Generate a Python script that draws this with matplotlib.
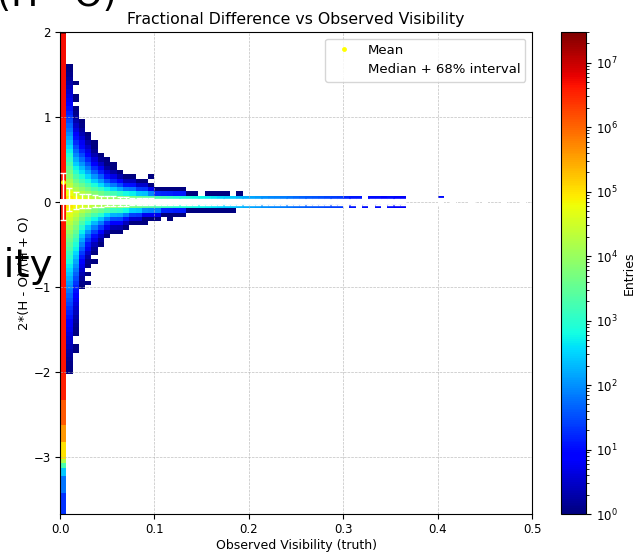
import numpy as np
import matplotlib
matplotlib.use("Agg")
import matplotlib.pyplot as plt
from matplotlib.colors import LogNorm

# ---------------- binning ----------------
x_bin_count = 75
x_lo, x_hi = 0.0, 0.5
y_bin_width = 0.05
y_low_edge = -3.675
y_bin_count = 114

# ---------------- column 0 (x < 0.0067): segments of log10(entries) ----------------
col0_ylo = [1.975, 1.0, -2.0, -2.3, -2.6, -2.8, -3.0, -3.05, -3.1, -3.2, -3.4, -3.675]
col0_yhi = [2.025, 1.975, 1.0, -2.0, -2.3, -2.6, -2.8, -3.0, -3.05, -3.1, -3.2, -3.4]
col0_log = [7.4, 6.7, 6.65, 6.55, 6.1, 5.6, 5.0, 4.2, 3.3, 2.4, 1.8, 1.3]

# ---------------- columns 1..54: envelope ----------------
upper_extent = [1.6, 1.1, 0.95, 0.8, 0.65, 0.55, 0.45, 0.4, 0.35, 0.3,
                0.3, 0.25, 0.25, 0.2, 0.15, 0.15, 0.15, 0.15, 0.15, 0.1,
                0.1, 0.05, 0.1, 0.1, 0.1, 0.1, 0.05, 0.1, 0.05, 0.05,
                0.05, 0.05, 0.05, 0.05, 0.05, 0.05, 0.05, 0.05, 0.05, 0.05,
                0.05, 0.05, 0.05, 0.05, 0.05, 0.05, 0.05, 0.0, 0.05, 0.05,
                0.05, 0.05, 0.05, 0.05]
lower_extent = [2.0, 1.55, 1.0, 0.75, 0.6, 0.5, 0.4, 0.35, 0.35, 0.3,
                0.25, 0.25, 0.2, 0.2, 0.2, 0.15, 0.15, 0.15, 0.15, 0.1,
                0.1, 0.1, 0.1, 0.1, 0.1, 0.1, 0.1, 0.05, 0.05, 0.05,
                0.05, 0.05, 0.05, 0.05, 0.05, 0.05, 0.05, 0.05, 0.05, 0.05,
                0.05, 0.05, 0.05, 0.05, 0.0, 0.05, 0.0, 0.05, 0.0, 0.05,
                0.0, 0.05, 0.05, 0.05]
band_log = [5.0, 4.8, 4.6, 4.45, 4.3, 4.2, 4.1, 4.0, 3.9, 3.8,
            3.7, 3.6, 3.5, 3.4, 3.3, 3.2, 3.1, 3.0, 2.95, 2.9,
            2.8, 2.75, 2.7, 2.6, 2.5, 2.45, 2.4, 2.3, 2.2, 2.15,
            2.1, 2.0, 1.95, 1.9, 1.85, 1.8, 1.7, 1.65, 1.6, 1.55,
            1.5, 1.45, 1.4, 1.35, 1.2, 1.1, 1.1, 1.0, 1.0, 1.0,
            0.9, 1.0, 0.9, 0.8]

# isolated cells (x, y, log10 entries)
sparse_x = [0.017, 0.017, 0.017, 0.031, 0.035, 0.051, 0.057, 0.094, 0.017, 0.017,
            0.031, 0.031, 0.035, 0.091, 0.117, 0.403]
sparse_y = [1.40, 1.20, 1.25, 0.65, 0.70, 0.50, 0.45, 0.30, -1.70, -1.75,
            -0.85, -0.95, -0.70, -0.25, -0.20, 0.05]
sparse_log = [0.0, 0.0, 0.0, 0.0, 0.0, 0.0, 0.0, 0.0, 0.0, 0.0,
              0.0, 0.0, 0.0, 0.0, 0.0, 1.0]

# ---------------- profile statistics ----------------
main_cols = list(range(0, 55))
far_cols = [60, 62, 65, 67, 70, 73]
median_main = [0.0] * len(main_cols)
median_far = [0.0] * len(far_cols)
mean_main = [0.23, 0.04, 0.03, 0.02, 0.02, 0.015, 0.01, 0.01, 0.01, 0.01] + [0.0] * 45
mean_far = [0.0] * len(far_cols)
err_up = [0.34, 0.16, 0.12, 0.10, 0.09, 0.08, 0.075, 0.07, 0.065, 0.06,
          0.055, 0.05, 0.05, 0.05, 0.05] + [0.03] * 40
err_dn = [0.21, 0.10, 0.08, 0.07, 0.065, 0.06, 0.055, 0.05, 0.05, 0.045,
          0.045, 0.04, 0.04, 0.04, 0.04] + [0.03] * 40
err_far = [0.02] * len(far_cols)

# ---------------- build the 2D histogram ----------------
x_edges = np.linspace(x_lo, x_hi, x_bin_count + 1)
y_edges = y_low_edge + y_bin_width * np.arange(y_bin_count + 1)
xc = 0.5 * (x_edges[:-1] + x_edges[1:])
yc = 0.5 * (y_edges[:-1] + y_edges[1:])
H = np.zeros((x_bin_count, y_bin_count))

for j, y in enumerate(yc):
    for lo, hi, lg in zip(col0_ylo, col0_yhi, col0_log):
        if lo - 1e-9 <= y < hi - 1e-9:
            H[0, j] = 10 ** lg
            break

for c in range(1, 55):
    pk = band_log[c - 1]
    for j, y in enumerate(yc):
        d = abs(y)
        if d < 0.01:
            continue  # central bin lies under the median line
        E = upper_extent[c - 1] if y > 0 else lower_extent[c - 1]
        if E <= 0 or d > E + 1e-6:
            continue
        t = (d - 0.05) / (E - 0.05) if E > 0.051 else 0.0
        lg = pk * (1 - t) ** 1.4
        H[c, j] = max(1.0, 10 ** lg)

for sx, sy, sl in zip(sparse_x, sparse_y, sparse_log):
    i = np.searchsorted(x_edges, sx) - 1
    j = np.searchsorted(y_edges, sy) - 1
    H[i, j] = max(H[i, j], 10 ** sl)

Hm = np.ma.masked_where(H <= 0, H)

# ---------------- figure ----------------
fig = plt.figure(figsize=(6.36, 5.52), dpi=100)
W, Hpx = 636, 552
ax = fig.add_axes([60 / W, 1 - 514 / Hpx, 472 / W, 482 / Hpx])
cax = fig.add_axes([561 / W, 1 - 514 / Hpx, 25 / W, 482 / Hpx])

mesh = ax.pcolormesh(x_edges, y_edges, Hm.T, cmap="jet",
                     norm=LogNorm(vmin=1, vmax=3e7), zorder=1)

xm = xc[main_cols]
xf = xc[far_cols]
ax.plot(np.concatenate([xm, xf]), mean_main + mean_far, "o", color="yellow",
        ms=3.5, mec="none", label="Mean", zorder=3)
# median: continuous white band over the populated columns
ax.plot(np.concatenate([[x_edges[0]], xm, [x_edges[55]]]),
        [median_main[0]] + median_main + [median_main[-1]],
        color="white", lw=4.2, solid_capstyle="butt", zorder=4)
ax.errorbar(xm, median_main, yerr=[err_dn, err_up], fmt="none",
            ecolor="white", elinewidth=1, capsize=2, capthick=1,
            label="Median + 68% interval", zorder=4)
ax.errorbar(xf, median_far, yerr=err_far, fmt="_", color="white", ms=5, mew=3,
            ecolor="white", elinewidth=1, capsize=2, capthick=1, zorder=4)

ax.set_xlim(0, 0.5)
ax.set_ylim(-3.67, 2.0)
ax.set_xticks([0.0, 0.1, 0.2, 0.3, 0.4, 0.5])
ax.set_yticks([-3, -2, -1, 0, 1, 2])
ax.tick_params(labelsize=8.5, pad=3)
ax.grid(True, linestyle="--", linewidth=0.5, color="#b0b0b0", alpha=0.8)
ax.set_title("Fractional Difference vs Observed Visibility", fontsize=11.3)
ax.set_xlabel("Observed Visibility (truth)", fontsize=9, labelpad=2)
ax.set_ylabel("2*(H - O)/(H + O)", fontsize=9.5, labelpad=2)
ax.legend(loc="upper right", fontsize=9.5)

cb = fig.colorbar(mesh, cax=cax)
cb.set_label("Entries", fontsize=9)
cb.ax.tick_params(labelsize=8.5)

# large overlapping text fragments from neighbouring panel
fig.text(-0.004, 1 - 6 / Hpx, "(H - O)", fontsize=26, ha="left", va="baseline")
fig.text(53 / W, 1 - 277 / Hpx, "Visibility", fontsize=28, ha="right", va="baseline")

fig.savefig("out.png", dpi=100)
